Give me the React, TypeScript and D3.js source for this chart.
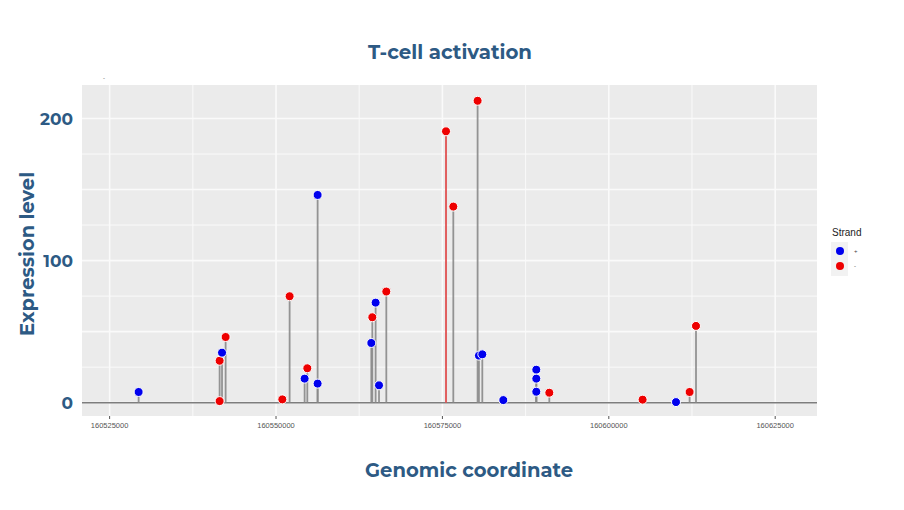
import React, { useEffect, useRef } from 'react';
import * as d3 from 'd3';

// genomic position, expression level and strand of each probe
const positions = [
    160529357, 160541526, 160541526, 160541887, 160542428,
    160550947, 160552043, 160554297, 160554702, 160556250, 160556250,
    160564318, 160564468, 160564964, 160565475, 160566571,
    160575541, 160576638, 160580288, 160580488, 160580995,
    160584150, 160589107, 160589107, 160589107, 160591062,
    160605078, 160610096, 160612139, 160613100,
];
const values = [
    7.5, 1.1, 29.5, 35.2, 46.2,
    2.3, 74.9, 16.9, 24.2, 146.2, 13.4,
    42, 60.1, 70.4, 12.2, 78.2,
    191, 138, 212.5, 33.1, 34,
    1.8, 23.2, 16.9, 7.7, 7.0,
    2.1, 0.4, 7.5, 54,
];
const strands = [
    '+', '-', '-', '+', '-',
    '-', '-', '+', '-', '+', '+',
    '+', '-', '+', '+', '-',
    '-', '-', '-', '+', '+',
    '+', '+', '+', '+', '-',
    '-', '+', '-', '-',
];
const highlighted = [160575541];
const xTicks = [160525000, 160550000, 160575000, 160600000, 160625000];
const yTicks = [0, 100, 200];
const strandLevels = ['+', '-'];
const strandColors = ['#0000ee', '#ee0000'];

const titleColor = '#2d5a84';
const headFont = 'Montserrat, "Open Sans", "DejaVu Sans", sans-serif';

const App: React.FC = () => {
    const svgRef = useRef<SVGSVGElement>(null);

    useEffect(() => {
        if (!svgRef.current) return;
        const svg = d3.select(svgRef.current);
        svg.selectAll('*').remove();

        const left = 82, right = 817, top = 85, bottom = 416;

        const x = d3.scaleLinear().domain([160520850, 160631280]).range([left, right]);
        const y = d3.scaleLinear().domain([-9.4, 223.6]).range([bottom, top]);
        const color = d3.scaleOrdinal<string, string>().domain(strandLevels).range(strandColors);

        // panel
        svg.append('rect')
            .attr('x', left).attr('y', top)
            .attr('width', right - left).attr('height', bottom - top)
            .attr('fill', '#ebebeb');

        // grid
        const g = svg.append('g');
        d3.range(0, 225, 25).forEach(v => {
            g.append('line')
                .attr('x1', left).attr('x2', right)
                .attr('y1', y(v)).attr('y2', y(v))
                .attr('stroke', '#fafafa')
                .attr('stroke-width', v % 50 === 0 ? 1.6 : 1);
        });
        d3.range(160525000, 160631000, 12500).forEach(v => {
            g.append('line')
                .attr('x1', x(v)).attr('x2', x(v))
                .attr('y1', top).attr('y2', bottom)
                .attr('stroke', '#fafafa')
                .attr('stroke-width', v % 25000 === 0 ? 1.6 : 1);
        });

        // baseline
        svg.append('line')
            .attr('x1', left).attr('x2', right)
            .attr('y1', y(0)).attr('y2', y(0))
            .attr('stroke', '#7d7d7d')
            .attr('stroke-width', 1.5);

        // stems
        positions.forEach((p, i) => {
            const hot = highlighted.includes(p);
            svg.append('line')
                .attr('x1', x(p)).attr('x2', x(p))
                .attr('y1', y(0)).attr('y2', y(values[i]))
                .attr('stroke', hot ? '#e05050' : '#8a8a8a')
                .attr('stroke-opacity', 0.9)
                .attr('stroke-width', hot ? 2 : 1.8);
        });

        // points
        positions.forEach((p, i) => {
            svg.append('circle')
                .attr('cx', x(p)).attr('cy', y(values[i]))
                .attr('r', 4.5)
                .attr('fill', color(strands[i]))
                .attr('stroke', '#ffffff')
                .attr('stroke-width', 1);
        });

        // x axis
        xTicks.forEach(t => {
            svg.append('line')
                .attr('x1', x(t)).attr('x2', x(t))
                .attr('y1', bottom).attr('y2', bottom + 3)
                .attr('stroke', '#555');
            svg.append('text')
                .attr('x', x(t)).attr('y', bottom + 12)
                .attr('text-anchor', 'middle')
                .attr('font-family', '"Liberation Sans", Arial, sans-serif')
                .attr('font-size', '7.5px')
                .attr('fill', '#555')
                .text(t);
        });

        // y axis
        yTicks.forEach(t => {
            svg.append('text')
                .attr('x', 73).attr('y', y(t))
                .attr('text-anchor', 'end')
                .attr('dominant-baseline', 'central')
                .attr('font-family', headFont)
                .attr('font-weight', 'bold')
                .attr('font-size', '17px')
                .attr('fill', titleColor)
                .text(t);
        });

        // titles
        svg.append('text')
            .attr('x', 450).attr('y', 59)
            .attr('text-anchor', 'middle')
            .attr('font-family', headFont)
            .attr('font-weight', 'bold')
            .attr('font-size', '19px')
            .attr('fill', titleColor)
            .attr('textLength', 164)
            .attr('lengthAdjust', 'spacingAndGlyphs')
            .text('T-cell activation');

        svg.append('text')
            .attr('x', 469).attr('y', 477)
            .attr('text-anchor', 'middle')
            .attr('font-family', headFont)
            .attr('font-weight', 'bold')
            .attr('font-size', '19px')
            .attr('fill', titleColor)
            .attr('textLength', 208)
            .attr('lengthAdjust', 'spacingAndGlyphs')
            .text('Genomic coordinate');

        svg.append('text')
            .attr('transform', 'translate(34, 254) rotate(-90)')
            .attr('text-anchor', 'middle')
            .attr('font-family', headFont)
            .attr('font-weight', 'bold')
            .attr('font-size', '19px')
            .attr('fill', titleColor)
            .attr('textLength', 164)
            .attr('lengthAdjust', 'spacingAndGlyphs')
            .text('Expression level');

        // stray tick mark above the panel
        svg.append('text')
            .attr('x', 104).attr('y', 80)
            .attr('text-anchor', 'middle')
            .attr('font-family', '"Liberation Sans", Arial, sans-serif')
            .attr('font-size', '6px')
            .attr('fill', '#555')
            .text('-');

        // legend
        const lg = svg.append('g');
        lg.append('text')
            .attr('x', 832).attr('y', 236)
            .attr('font-family', '"Liberation Sans", Arial, sans-serif')
            .attr('font-size', '10px')
            .attr('fill', '#222')
            .text('Strand');
        lg.append('rect')
            .attr('x', 831).attr('y', 242)
            .attr('width', 17).attr('height', 34)
            .attr('fill', '#f2f2f2');
        strandLevels.forEach((s, i) => {
            const cy = 251 + i * 15;
            lg.append('circle')
                .attr('cx', 840).attr('cy', cy)
                .attr('r', 4)
                .attr('fill', color(s));
            lg.append('text')
                .attr('x', 854).attr('y', cy)
                .attr('dominant-baseline', 'central')
                .attr('font-family', '"Liberation Sans", Arial, sans-serif')
                .attr('font-size', '6px')
                .attr('fill', '#444')
                .text(s);
        });
    }, []);

    return (
        <svg ref={svgRef} width="904" height="510" style={{ position: 'absolute', left: 0, top: 0 }}></svg>
    );
};

export default App;
